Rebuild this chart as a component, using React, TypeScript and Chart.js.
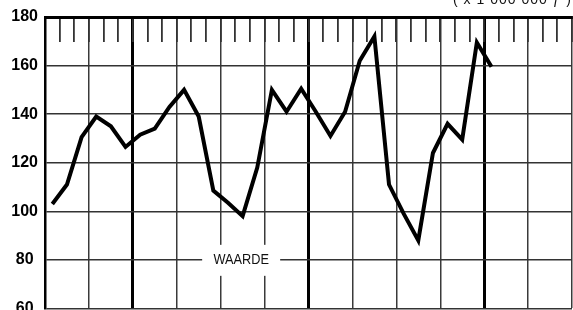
import React, { useEffect, useRef } from "react";
import { Chart, registerables } from "chart.js";

Chart.register(...registerables);

// Monthly values (x 1 000 000), one per month starting at month 0
const values = [
  103, 111, 130.5, 139, 135, 126.5, 131.5, 134, 143, 150, 139, 108.5,
  103.5, 98, 118, 150, 141, 150.5, 141, 131, 141, 162, 172, 111,
  99, 88, 124, 136, 129.5, 169.5, 159.5,
];
const monthsOnAxis = 36;
const quarterStep = 3;
const yearBoundaryOffset = 6; // thick lines at months 6, 18, 30
const yTicks = [60, 80, 100, 120, 140, 160, 180];
const seriesLabel = "WAARDE";
const seriesLabelAt = { month: 13.4, value: 80 };
const unitLabel = "( x 1 000 000 ƒ )";

const labelPlugin = {
  id: "labelPlugin",
  beforeDatasetsDraw(chart: any) {
    const { ctx, scales } = chart;
    const px = scales.x.getPixelForValue(seriesLabelAt.month);
    const py = scales.y.getPixelForValue(seriesLabelAt.value);
    ctx.save();
    ctx.fillStyle = "#ffffff";
    ctx.fillRect(px - 39, py - 15, 78, 31);
    ctx.fillStyle = "#111111";
    ctx.save();
    ctx.translate(px, py + 0.5);
    ctx.scale(0.85, 1);
    ctx.font = '15px "Liberation Sans", Arial, sans-serif';
    ctx.textAlign = "center";
    ctx.textBaseline = "middle";
    ctx.fillText(seriesLabel, 0, 0);
    ctx.restore();
    ctx.font = '14px "Liberation Sans", Arial, sans-serif';
    try { (ctx as any).letterSpacing = "1px"; } catch (e) {}
    ctx.textAlign = "right";
    ctx.textBaseline = "alphabetic";
    ctx.fillText(unitLabel, chart.chartArea.right, 4);
    ctx.restore();
  },
};

export default function App() {
  const ref = useRef<HTMLCanvasElement | null>(null);

  useEffect(() => {
    if (!ref.current) return;
    const points = values.map((v, i) => ({ x: i + 0.5, y: v }));
    const chart = new Chart(ref.current, {
      type: "line",
      data: {
        datasets: [
          {
            label: seriesLabel,
            data: points,
            borderColor: "#000000",
            borderWidth: 4,
            borderJoinStyle: "miter",
            borderCapStyle: "butt",
            pointRadius: 0,
            tension: 0,
            fill: false,
          },
        ],
      },
      options: {
        responsive: false,
        animation: false,
        events: [],
        layout: { padding: { left: 0, right: 1, top: 0, bottom: 0 } },
        plugins: {
          legend: { display: false },
          tooltip: { enabled: false },
          title: { display: false },
        },
        scales: {
          x: {
            type: "linear",
            position: "bottom",
            min: 0,
            max: monthsOnAxis,
            ticks: { stepSize: quarterStep, display: false },
            grid: {
              drawTicks: false,
              color: (c: any) =>
                c.tick && c.tick.value % 12 === yearBoundaryOffset ? "#000000" : "#3a3a3a",
              lineWidth: (c: any) =>
                c.tick && c.tick.value % 12 === yearBoundaryOffset ? 3 : 1.5,
            },
            border: { display: false },
            afterFit: (s: any) => {
              s.height = 14;
            },
          },
          x2: {
            type: "linear",
            position: "top",
            min: 0,
            max: monthsOnAxis,
            ticks: { stepSize: 1, display: false },
            grid: {
              drawOnChartArea: false,
              drawTicks: true,
              tickLength: -25,
              color: "#333333",
              lineWidth: 1.8,
            },
            border: { display: true, color: "#000000", width: 3 },
            afterFit: (s: any) => {
              s.height = 17;
            },
          },
          y: {
            type: "linear",
            position: "left",
            min: 60,
            max: 180,
            afterBuildTicks: (s: any) => {
              s.ticks = yTicks.map((v) => ({ value: v }));
            },
            ticks: {
              color: "#000000",
              padding: 7,
              crossAlign: "center",
              font: { family: '"Liberation Sans", Arial, sans-serif', size: 16, weight: "bold" },
            },
            grid: { drawTicks: false, color: "#333333", lineWidth: 1.5 },
            border: { display: true, color: "#000000", width: 2.5 },
            afterFit: (s: any) => {
              s.width = 45;
            },
          },
        },
      },
      plugins: [labelPlugin],
    } as any);
    return () => chart.destroy();
  }, []);

  return (
    <div style={{ position: "absolute", left: 0, top: 0, width: 573, height: 325, background: "#fff" }}>
      <canvas ref={ref} width={573} height={325} style={{ display: "block" }} />
    </div>
  );
}
